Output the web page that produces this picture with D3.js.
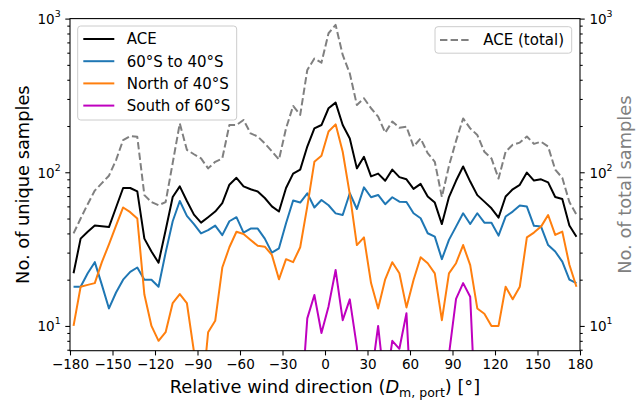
<!DOCTYPE html>
<html><head><meta charset="utf-8">
<script src="https://cdn.jsdelivr.net/npm/d3@7/dist/d3.min.js"></script>
<style>
body{margin:0;background:#fff;}
svg text{font-family:"DejaVu Sans",sans-serif;}
</style>
</head><body><div id="chart"></div>
<script>
// ---- data ----
const directions = [-177.5,-172.5,-167.5,-162.5,-157.5,-152.5,-147.5,-142.5,-137.5,-132.5,-127.5,-122.5,-117.5,-112.5,-107.5,-102.5,-97.5,-92.5,-87.5,-82.5,-77.5,-72.5,-67.5,-62.5,-57.5,-52.5,-47.5,-42.5,-37.5,-32.5,-27.5,-22.5,-17.5,-12.5,-7.5,-2.5,2.5,7.5,12.5,17.5,22.5,27.5,32.5,37.5,42.5,47.5,52.5,57.5,62.5,67.5,72.5,77.5,82.5,87.5,92.5,97.5,102.5,107.5,112.5,117.5,122.5,127.5,132.5,137.5,142.5,147.5,152.5,157.5,162.5,167.5,172.5,177.5];

const ace = [22,37,41,45,44.5,44,59,79,79,75,
  37,30.5,25.8,42,69,81,65,53,47,51,
  55.5,63,83,92,81,77.5,75,68,60,55.5,
  79,98,104,147,193,203,261,284,203,166,
  106,126,94,98,88,104,93,90,78,84,
  69.5,63.5,46,69,88,109,87,71,64.4,58.3,
  50.7,69.5,77.5,82.8,99.5,88.3,90,86,69,67,
  45,38];

const lat60to40 = [18,18,22,26,18.5,13,16.5,20,22.5,24,
  20,20,18,30,48,65,52,46,40,42,
  45,39,48,51,40.5,43,43,37,30,32,
  46.6,65.5,63.5,73,59,66,61,54,52.7,73,
  57.7,79.8,68.8,71.2,62,68.8,64.4,64.1,54.1,50.2,
  40.1,38.1,27.2,36.3,44.3,54.1,46.1,54.1,47,47,
  38.7,51.5,55.5,60.7,59.8,44.8,44.3,33.6,30.5,26.2,
  20,19];

const north40 = [10,18,18.5,19,26,34,45,59,55,50,
  16,10,8,9.1,14.1,16.1,14.1,6.8,3,9.1,
  10.8,24,32.5,41,39.7,36.3,33.2,32.8,29,20.1,
  27.2,26,32.5,60,117,128,184,205,136,72,
  33.6,37.7,19,13,20.1,26,22,13.2,19.9,28,
  25.6,22,10.9,22,25.6,33.6,24.9,13,12,10,
  10,18,14.9,18,37.7,40.5,44.3,52.7,39.1,41.1,
  25,18];

const south60 = [3,2,2,3,2,1,2,3,2,2,
  1,2,2,1,2,3,2,1,1,2,
  3,2,2,3,4,3,2,3,3,2,
  4,3,2.5,11.2,15.9,9,13.4,23.1,10.9,14.9,
  7.3,2,4.5,10,3.8,8,7.1,12.1,1.6,3,
  2,3,2,6.5,15,19,15.5,1.5,2,3,
  2,3,4,3,2,3,4,3,2,3,
  2,1];

const aceTotal = [40,50,62,76,85,95,120,162,172,170,
  71,64,61,64,115,208,140,131,123,106,
  117,123,203,203,219,179,171,154,137,121,
  193,270,236,463,550,517,803,910,580,440,
  274,303,261,230,181,214,195,198,147,166,
  133,117,69,110,160,224,193,175,136,123,
  91,136,151,156,171,153,158,147,104,92,
  64,53];

const xTicks = [-180,-150,-120,-90,-60,-30,0,30,60,90,120,150,180];
const yMajorTicks = [10,100,1000];
const yMinorTicks = [7,8,9,20,30,40,50,60,70,80,90,200,300,400,500,600,700,800,900];

const seriesLabels = ["ACE","60°S to 40°S","North of 40°S","South of 60°S"];
const seriesColors = ["#000000","#1f77b4","#ff7f0e","#bf00bf"];
const totalLabel = "ACE (total)";
const totalColor = "#808080";

// ---- layout ----
const W = 642, H = 401;
const L = 70, R = 580, T = 18.6, B = 350.7;

const svg = d3.select("#chart").append("svg").attr("width",W).attr("height",H);
const x = d3.scaleLinear().domain([-180,180]).range([L,R]);
const y = d3.scaleLog().domain([6.9,1000]).range([B,T]);

svg.append("clipPath").attr("id","clip").append("rect")
  .attr("x",L).attr("y",T).attr("width",R-L).attr("height",B-T);

const line = d3.line().x((d,i)=>x(directions[i])).y(d=>y(d));

const primary = [ace, lat60to40, north40, south60];
const gLines = svg.append("g").attr("clip-path","url(#clip)");
primary.forEach((vals,i)=>{
  gLines.append("path").datum(vals).attr("d",line)
    .attr("fill","none").attr("stroke",seriesColors[i])
    .attr("stroke-width",2).attr("stroke-linejoin","round");
});

// axes helpers
function styleAxis(g){
  g.select(".domain").remove();
  g.selectAll(".tick line").attr("stroke","#000").attr("stroke-width",1.07);
  g.attr("font-family",null).attr("font-size",null);
}
const xAxis = d3.axisBottom(x).tickValues(xTicks).tickSize(4.7).tickPadding(3.6)
  .tickFormat(d=> d<0 ? "\u2212"+Math.abs(d) : String(d));
const gx = svg.append("g").attr("transform",`translate(0,${B})`).call(xAxis);
styleAxis(gx);
gx.selectAll(".tick text").attr("fill","#000").style("font-size","13.5px");

function addLogAxis(axisFn, xpos, anchor, off){
  const gM = svg.append("g").attr("transform",`translate(${xpos},0)`)
    .call(axisFn(y).tickValues(yMajorTicks).tickSize(4.7).tickFormat(""));
  styleAxis(gM);
  gM.selectAll(".tick text").remove();
  gM.selectAll(".tick").each(function(d){
    const t = d3.select(this).append("text").attr("x",off).attr("dy","0.36em")
      .attr("text-anchor",anchor).attr("fill","#000").style("font-size","13.5px");
    t.append("tspan").text("10");
    t.append("tspan").attr("dy","-0.75em").style("font-size","9.4px").text(String(Math.round(Math.log10(d))));
  });
  const gm = svg.append("g").attr("transform",`translate(${xpos},0)`)
    .call(axisFn(y).tickValues(yMinorTicks).tickSize(2.7).tickFormat(""));
  styleAxis(gm);
  gm.selectAll(".tick text").remove();
}
addLogAxis(d3.axisLeft, L, "end", -9.4);
addLogAxis(d3.axisRight, R, "start", 9.4);

// frame (spines)
svg.append("rect").attr("x",L).attr("y",T).attr("width",R-L).attr("height",B-T)
  .attr("fill","none").attr("stroke","#000").attr("stroke-width",1.07);

// axis labels
const xl = svg.append("text").attr("x",(L+R)/2).attr("y",393).attr("text-anchor","middle")
  .attr("fill","#000").style("font-size","17.8px");
xl.append("tspan").text("Relative wind direction (");
xl.append("tspan").style("font-style","italic").text("D");
xl.append("tspan").attr("dy",4).style("font-size","12.5px").text("m, port");
xl.append("tspan").attr("dy",-4).text(") [°]");

svg.append("text").attr("transform",`translate(28.5,${(T+B)/2}) rotate(-90)`)
  .attr("text-anchor","middle").attr("fill","#000").style("font-size","17.8px")
  .text("No. of unique samples");
svg.append("text").attr("transform",`translate(631,${(T+B)/2}) rotate(-90)`)
  .attr("text-anchor","middle").attr("fill",totalColor).style("font-size","17.8px")
  .text("No. of total samples");

// legend 1
const lg1 = svg.append("g");
lg1.append("rect").attr("x",77.7).attr("y",26).attr("width",159).attr("height",94).attr("rx",3)
  .attr("fill","#fff").attr("fill-opacity",0.8).attr("stroke","#cccccc").attr("stroke-width",1);
seriesLabels.forEach((lab,i)=>{
  const yy = 39 + i*22.2;
  lg1.append("line").attr("x1",83.3).attr("x2",114.3).attr("y1",yy).attr("y2",yy)
    .attr("stroke",seriesColors[i]).attr("stroke-width",2);
  lg1.append("text").attr("x",126.7).attr("y",yy).attr("dy","0.36em").attr("fill","#000")
    .style("font-size","15px").text(lab);
});

// total (twin axis) line on top
svg.append("g").attr("clip-path","url(#clip)").append("path").datum(aceTotal).attr("d",line)
  .attr("fill","none").attr("stroke",totalColor).attr("stroke-width",2)
  .attr("stroke-dasharray","7.4,3.2").attr("stroke-linejoin","round");

// legend 2
const lg2 = svg.append("g");
lg2.append("rect").attr("x",435).attr("y",26.7).attr("width",136.7).attr("height",26.5).attr("rx",3)
  .attr("fill","#fff").attr("fill-opacity",0.8).attr("stroke","#cccccc").attr("stroke-width",1);
lg2.append("line").attr("x1",440).attr("x2",471).attr("y1",40).attr("y2",40)
  .attr("stroke",totalColor).attr("stroke-width",2).attr("stroke-dasharray","7.4,3.2");
lg2.append("text").attr("x",483.3).attr("y",40).attr("dy","0.36em").attr("fill","#000")
  .style("font-size","15px").text(totalLabel);
</script>
</body></html>
